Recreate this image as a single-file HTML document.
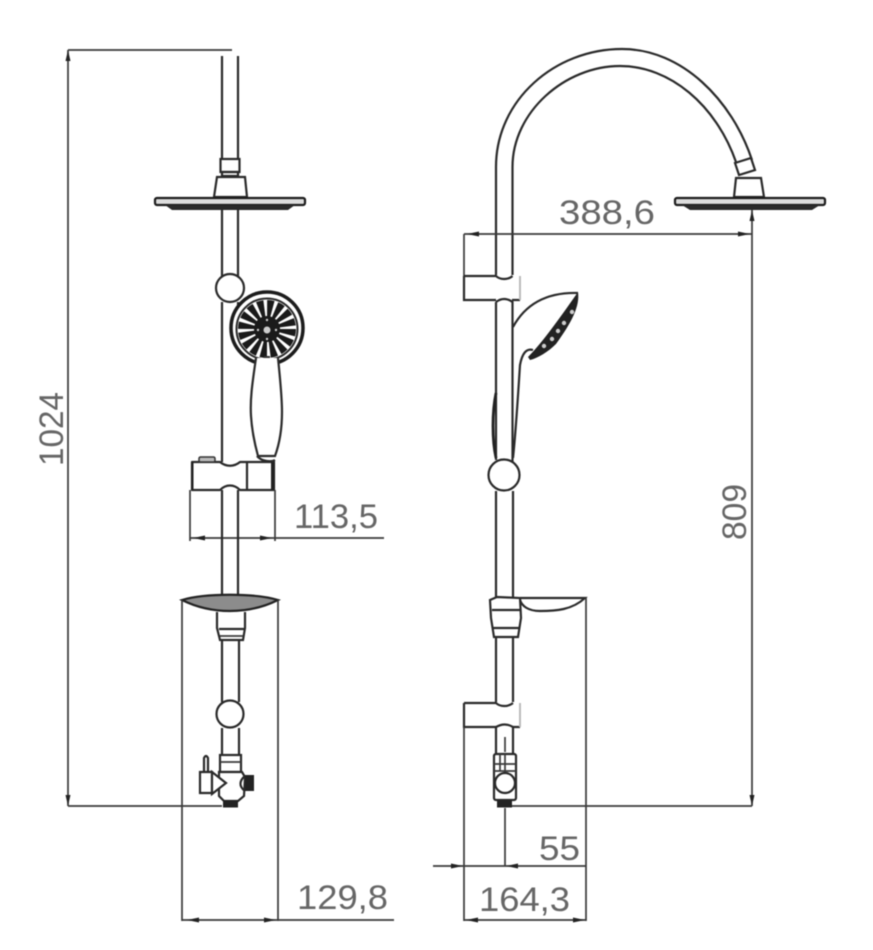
<!DOCTYPE html>
<html><head><meta charset="utf-8">
<style>
html,body{margin:0;padding:0;background:#fff;width:873px;height:950px;overflow:hidden}
svg{display:block;filter:blur(.55px)}
text{font-family:"Liberation Sans",sans-serif;fill:#666;font-size:34px}
.p{fill:none;stroke:#2a2a2a;stroke-width:2.200}
.t{fill:none;stroke:#3a3a3a;stroke-width:1.700}
.w{fill:#fff;stroke:#2a2a2a;stroke-width:2.200}
.k{fill:#222;stroke:none}
.l{fill:none;stroke:#bbb;stroke-width:2}
</style></head><body>
<svg width="873" height="950" viewBox="0 0 873 950" xmlns="http://www.w3.org/2000/svg">
<!-- LEFT VIEW -->
<path class="t" d="M68 50H232M68 50V806M68 806H222"/>
<path class="k" d="M68 50l-2.500 11h5zM68 806l-2.500-11h5z"/>
<path class="p" d="M222 56V158M238 56V158"/>
<rect class="p" x="220.500" y="159" width="19" height="13"/>
<path class="p" d="M222 172h16v4h-16z"/>
<path class="w" d="M217 177H245L247 197H214Z"/>
<rect x="155" y="198" width="150" height="7" rx="2" fill="#ddd" stroke="#1c1c1c" stroke-width="2.200"/>
<path d="M165 205H295L288 210H172Z" fill="#2a2a2a"/>
<path class="p" d="M222 210V277M238 210V277"/>
<circle class="w" cx="230" cy="288" r="14" stroke-width="2.600"/>
<path class="p" d="M222 302V462M238 302V330"/>
<!-- shower head front -->
<circle cx="267" cy="328" r="36" fill="#fff" stroke="#1c1c1c" stroke-width="3.500"/>
<circle cx="267" cy="329" r="30.500" fill="none" stroke="#2a2a2a" stroke-width="2"/>
<circle cx="267" cy="329" r="20" fill="none" stroke="#1a1a1a" stroke-width="18" stroke-dasharray="5.200 2.650"/>
<circle cx="267" cy="329" r="13" fill="#1a1a1a"/>
<g fill="#ccc"><circle cx="267" cy="330" r="3.500"/><circle cx="267" cy="320" r="1.200"/><circle cx="276" cy="330" r="1.200"/><circle cx="258" cy="330" r="1.200"/><circle cx="267" cy="339" r="1.200"/></g>
<path d="M264 356h6v5h-6z" fill="#333"/>
<path class="w" d="M256 358C252 385 250 400 251 416C252 432 255 445 258 456H275C279 445 282 430 282 412C282 396 280 378 278 358"/>
<path class="p" d="M257 456C262 462 272 462 275 460"/>
<!-- bracket -->
<path class="p" stroke-linejoin="round" d="M192 462H220C226 467 234 467 240 462H274V490H240C234 484 226 484 220 490H192Z"/>
<rect x="191" y="462" width="2.500" height="28" fill="#222"/>
<rect x="271" y="462" width="3.500" height="28" fill="#222"/>
<path class="p" d="M247 462V490"/>
<rect x="199" y="457" width="16" height="5" rx="1.500" fill="#bbb" stroke="#333" stroke-width="1.500"/>
<path class="t" d="M190 490V541M275 490V541M190 538H384"/>
<path class="k" d="M193 538l12-2.500v5zM272 538l-12-2.500v5z"/>
<path class="p" d="M222 490V598M238 490V598"/>
<text x="294" y="528" textLength="84" lengthAdjust="spacingAndGlyphs">113,5</text>
<!-- dish -->
<path d="M182 600C205 593 255 593 278 600C262 608 246 611 230 611C214 611 198 608 182 600Z" fill="#8c8c8c" stroke="#222" stroke-width="2.200"/>
<path class="p" d="M217 612V628L220 640H243L245 628V612M219 629H244"/>
<path class="t" d="M220 636H243"/>
<path class="p" d="M222 640V702M239 640V702"/>
<circle class="w" cx="230" cy="714" r="13.500" stroke-width="3"/>
<path class="p" d="M222 728V756M239 728V756"/>
<!-- valve -->
<rect class="p" x="220" y="755" width="21" height="17"/>
<path class="t" d="M220 762H241"/>
<path class="w" d="M219 772H242L245 777L244 796L238 801H224L219 796Z"/>
<path class="w" d="M200 772V793H212V772Z"/>
<path class="p" d="M204 772V758Q206 754 208 758V772"/>
<path class="w" d="M212 772L226 783L212 794Z"/>
<path d="M245 776C240 780 238 786 245 791" class="p"/>
<rect x="245" y="775" width="9" height="16" class="k"/>
<rect x="223" y="800" width="15" height="7.500" class="k"/>
<!-- ext lines -->
<path class="t" d="M182 600V921M278 600V921M182 920H394"/>
<path class="k" d="M187 920l12-2.500v5zM276 920l-12-2.500v5z"/>
<text x="297" y="909" textLength="91" lengthAdjust="spacingAndGlyphs">129,8</text>
<text transform="translate(63 466) rotate(-90)" textLength="74" lengthAdjust="spacingAndGlyphs">1024</text>

<!-- RIGHT VIEW -->
<path class="p" d="M496 275V167C496 100 555 49 622 49C682 49 732 100 752 160"/>
<path class="p" d="M512.500 275V167C512.500 112 565 66 620 66C670 66 716 105 736 162"/>
<path class="w" d="M735 163L751 158L755 170L739 175Z"/>
<path class="w" d="M736 178H761L764 197H734Z"/>
<rect x="675" y="198" width="150" height="7" rx="2" fill="#ddd" stroke="#1c1c1c" stroke-width="2.200"/>
<path d="M682 205H820L812 210H690Z" fill="#2a2a2a"/>
<text x="559" y="224" textLength="96" lengthAdjust="spacingAndGlyphs">388,6</text>
<path class="t" d="M464 234H752M752 210V806M464 234V276"/>
<path class="k" d="M467 234l12-2.500v5zM750 234l-12-2.500v5zM752 210l-2.500 11h5zM752 806l-2.500-11h5z"/>
<!-- upper right bracket -->
<path class="p" d="M464 276H496C500 280 508 280 512.500 276"/>
<path class="p" d="M464 276V300H496M512 300H520"/>
<path class="l" d="M520 276V300"/>
<path class="p" d="M496 302Q504 296 512.500 302V462M496 302V460"/>
<!-- hand shower side -->
<path class="p" d="M513 327C525 305 545 292 578 293"/>
<path class="k" d="M578 292C580 306 572 322 556 344C548 352 538 358 530 360L528 357C540 345 555 325 578 292Z"/>
<g fill="#ccc"><circle cx="572" cy="312" r="2.200"/><circle cx="564" cy="323" r="2.200"/><circle cx="558" cy="331" r="2.200"/><circle cx="552" cy="339" r="2.200"/><circle cx="544" cy="346" r="2.200"/></g>
<path class="p" d="M533 350C526 348 522 354 520 365C518 395 516 430 513 458"/>
<path d="M496 393C492 412 492 440 496 458" fill="none" stroke="#222" stroke-width="2.800"/>
<circle class="w" cx="504" cy="475" r="15.500" stroke-width="2.800"/>
<path class="p" d="M496 491V598M513 491V598"/>
<!-- soap dish side -->
<path class="w" d="M490 600L497 597L520 598L521 618L518 637H494L491 618Z"/>
<path class="p" d="M492 610H520M493 628H519"/>
<path class="p" d="M520 600C522 606 528 611 540 611C556 611 572 610 585 598H520"/>
<path class="p" d="M496 637V702M513 637V702"/>
<path class="p" d="M464 703H496C500 707 508 707 513 703M464 703V727H496M513 727H520"/>
<path class="l" d="M520 703V727"/>
<path class="p" d="M496 727V754M513 727V754"/>
<path d="M496 727Q505 722 513 727" class="p"/>
<path class="t" d="M505 737V752"/>
<!-- valve side -->
<rect x="494" y="754" width="22" height="46" rx="2" class="p" stroke-width="2.800"/>
<path class="t" d="M494 764H516M494 771H516M505 754V772M500 754V771"/>
<circle class="p" cx="505" cy="783" r="10"/>
<rect x="497" y="800" width="15" height="7.500" class="k"/>
<path class="t" d="M512 806H752"/>
<path class="t" d="M505 808V866M464 727V921M586 598V921"/>
<path class="t" d="M433 866H586M464 920H586"/>
<path class="k" d="M463 866l-12-2.500v5zM506 866l12-2.500v5zM466 920l12-2.500v5zM585 920l-12-2.500v5z"/>
<text x="539" y="860" textLength="41" lengthAdjust="spacingAndGlyphs">55</text>
<text x="479" y="911" textLength="91" lengthAdjust="spacingAndGlyphs">164,3</text>
<text transform="translate(746 540) rotate(-90)" textLength="56" lengthAdjust="spacingAndGlyphs">809</text>
</svg>
</body></html>
